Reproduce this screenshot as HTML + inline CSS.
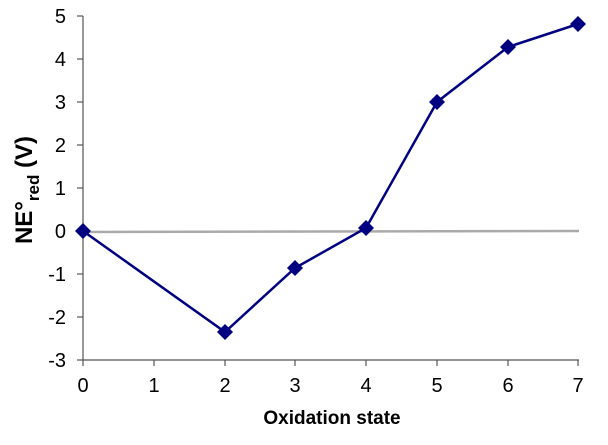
<!DOCTYPE html>
<html><head><style>body{margin:0;background:#fff}</style></head><body>
<svg width="608" height="440" xmlns="http://www.w3.org/2000/svg" font-family="Liberation Sans, sans-serif">
<g stroke="#555" stroke-width="1.2">
<line x1="83" y1="16" x2="83" y2="360"/>
<line x1="83" y1="360" x2="579" y2="360"/>
<line x1="77" y1="16" x2="83" y2="16"/><line x1="77" y1="59" x2="83" y2="59"/><line x1="77" y1="102" x2="83" y2="102"/><line x1="77" y1="145" x2="83" y2="145"/><line x1="77" y1="188" x2="83" y2="188"/><line x1="77" y1="231" x2="83" y2="231"/><line x1="77" y1="274" x2="83" y2="274"/><line x1="77" y1="317" x2="83" y2="317"/><line x1="77" y1="360" x2="83" y2="360"/>
<line x1="83" y1="360" x2="83" y2="366"/><line x1="154" y1="360" x2="154" y2="366"/><line x1="225" y1="360" x2="225" y2="366"/><line x1="295" y1="360" x2="295" y2="366"/><line x1="366" y1="360" x2="366" y2="366"/><line x1="437" y1="360" x2="437" y2="366"/><line x1="508" y1="360" x2="508" y2="366"/><line x1="578" y1="360" x2="578" y2="366"/>
</g>
<g font-size="20" text-anchor="end">
<text x="66" y="23">5</text><text x="66" y="66">4</text><text x="66" y="109">3</text><text x="66" y="152">2</text><text x="66" y="195">1</text><text x="66" y="238">0</text><text x="66" y="281">-1</text><text x="66" y="324">-2</text><text x="66" y="367">-3</text>
</g>
<g font-size="20" text-anchor="middle">
<text x="83" y="392">0</text><text x="154" y="392">1</text><text x="225" y="392">2</text><text x="295" y="392">3</text><text x="366" y="392">4</text><text x="437" y="392">5</text><text x="508" y="392">6</text><text x="578" y="392">7</text>
</g>
<text x="332" y="424" font-size="19" font-weight="bold" text-anchor="middle">Oxidation state</text>
<text transform="translate(32,190) rotate(-90)" font-size="24" font-weight="bold" text-anchor="middle">NE°<tspan font-size="17" dy="7">red</tspan><tspan dy="-7"> (V)</tspan></text>
<line x1="83" y1="232" x2="579" y2="231" stroke="#aaa" stroke-width="2.5"/>
<polyline fill="none" stroke="#000080" stroke-width="2.5" points="83,231 225,332 295,268 366,228 437,102 508,47 578,24"/>
<g fill="#000080">
<path d="M83 223 l8 8 -8 8 -8 -8z"/><path d="M225 324 l8 8 -8 8 -8 -8z"/><path d="M295 260 l8 8 -8 8 -8 -8z"/><path d="M366 220 l8 8 -8 8 -8 -8z"/><path d="M437 94 l8 8 -8 8 -8 -8z"/><path d="M508 39 l8 8 -8 8 -8 -8z"/><path d="M578 16 l8 8 -8 8 -8 -8z"/>
</g>
</svg>
</body></html>
